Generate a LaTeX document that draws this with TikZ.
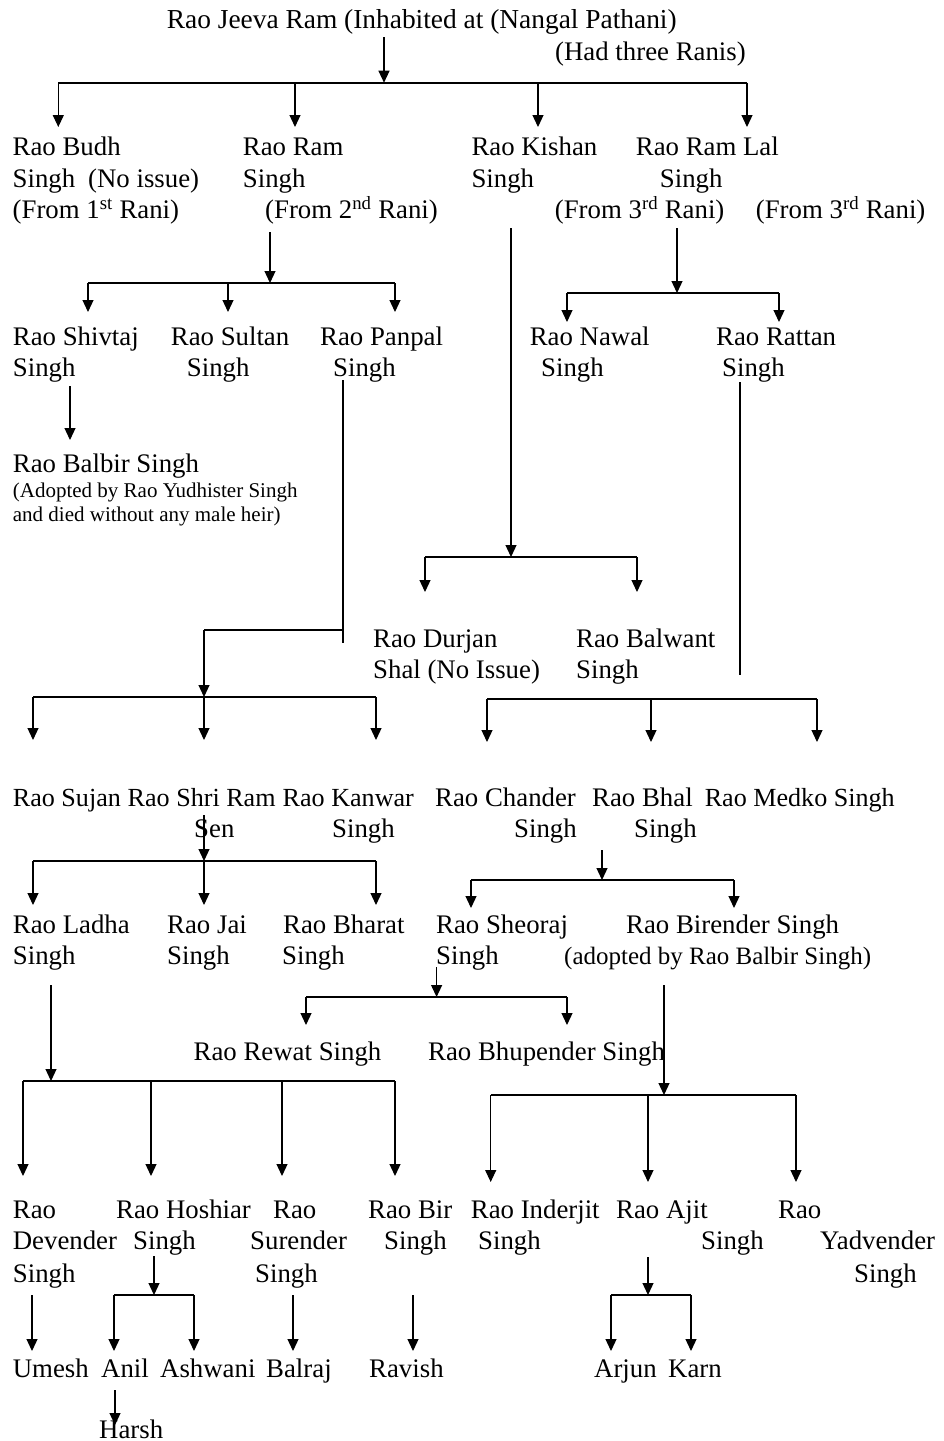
\documentclass[tikz,border=0pt]{standalone}
\usepackage{fontspec}
\setmainfont{Liberation Serif}
\usetikzlibrary{arrows.meta}
\newcommand\bigfs{\fontsize{26.8}{32}\selectfont}
\newcommand\midfs{\fontsize{26.1}{32}\selectfont}
\newcommand\narfs{\fontsize{25}{32}\selectfont}
\newcommand\topfs{\fontsize{27.4}{32}\selectfont}
\newcommand\smfs{\fontsize{21}{25}\selectfont}
\tikzset{
  txt/.style={anchor=base west, inner sep=0pt, font=\bigfs},
  smtxt/.style={anchor=base west, inner sep=0pt, font=\smfs},
  bus/.style={line width=2.1pt},
  ln/.style={line width=1.2pt},
  arr/.style={ln, -{Triangle[width=11pt,length=12pt]}},
}
\begin{document}
\begin{tikzpicture}[x=1pt,y=-1pt]
\useasboundingbox (0,0) rectangle (944,1441);
% ---------- texts ----------
\node[txt,font=\topfs] (jeeva) at (166.7,28.5) {Rao Jeeva Ram (Inhabited at (Nangal Pathani)};
\node[txt] (ranis) at (555,60) {(Had three Ranis)};
% row 1
\node[txt] (budhA) at (12.5,155) {Rao Budh};
\node[txt] (budhB) at (12.5,187) {Singh};
\node[txt] (budhC) at (88,187) {(No issue)};
\node[txt] (budhD) at (12.5,218.5) {(From 1\textsuperscript{st} Rani)};
\node[txt] (ramA) at (242.7,155) {Rao Ram};
\node[txt] (ramB) at (242.7,187) {Singh};
\node[txt] (ramC) at (265,218.5) {(From 2\textsuperscript{nd} Rani)};
\node[txt] (kishA) at (471.3,155) {Rao Kishan};
\node[txt] (kishB) at (471.3,187) {Singh};
\node[txt] (lalA) at (635.7,155) {Rao Ram Lal};
\node[txt] (lalB) at (659.7,187) {Singh};
\node[txt] (kishC) at (554.7,218.5) {(From 3\textsuperscript{rd} Rani)};
\node[txt] (lalC) at (755.7,218.5) {(From 3\textsuperscript{rd} Rani)};
% row 2
\node[txt] (shivA) at (12.7,345) {Rao Shivtaj};
\node[txt] (shivB) at (12.7,376) {Singh};
\node[txt] (sultA) at (170.7,345) {Rao Sultan};
\node[txt] (sultB) at (186.7,376) {Singh};
\node[txt] (panA) at (320,345) {Rao Panpal};
\node[txt] (panB) at (333,376) {Singh};
\node[txt] (nawA) at (529.6,345) {Rao Nawal};
\node[txt] (nawB) at (541,376) {Singh};
\node[txt] (ratA) at (716,345) {Rao Rattan};
\node[txt] (ratB) at (722,376) {Singh};
\node[txt] (balA) at (12.7,472) {Rao Balbir Singh};
\node[smtxt] (balB) at (12.7,497.7) {(Adopted by Rao Yudhister Singh};
\node[smtxt] (balC) at (12.7,521.7) {and died without any male heir)};
% Durjan row
\node[txt] (durA) at (373,647) {Rao Durjan};
\node[txt] (durB) at (373,678) {Shal (No Issue)};
\node[txt] (balwA) at (576,647) {Rao Balwant};
\node[txt] (balwB) at (576,678) {Singh};
% row 3
\node[txt,font=\midfs] (sujan) at (12.7,806.5) {Rao Sujan};
\node[txt,font=\midfs] (shriA) at (127.5,806.5) {Rao Shri Ram};
\node[txt] (shriB) at (194,837) {Sen};
\node[txt,font=\midfs] (kanA) at (282.5,806.5) {Rao Kanwar};
\node[txt] (kanB) at (332,837) {Singh};
\node[txt] (chanA) at (435,806.5) {Rao Chander};
\node[txt] (chanB) at (514,837) {Singh};
\node[txt] (bhalA) at (592,806.5) {Rao Bhal};
\node[txt] (bhalB) at (634,837) {Singh};
\node[txt,font=\midfs] (medko) at (704.6,806.5) {Rao Medko Singh};
% row 4
\node[txt] (ladA) at (12.7,933) {Rao Ladha};
\node[txt] (ladB) at (12.7,964) {Singh};
\node[txt] (jaiA) at (167,933) {Rao Jai};
\node[txt] (jaiB) at (167,964) {Singh};
\node[txt] (bhaA) at (283,933) {Rao Bharat};
\node[txt] (bhaB) at (282,964) {Singh};
\node[txt] (sheA) at (436,933) {Rao Sheoraj};
\node[txt] (sheB) at (436,964) {Singh};
\node[txt] (birA) at (626,933) {Rao Birender Singh};
\node[txt,font=\narfs] (birB) at (564,964) {(adopted by Rao Balbir Singh)};
% row 5
\node[txt] (rewat) at (193.5,1060) {Rao Rewat Singh};
\node[txt] (bhup) at (428,1060) {Rao Bhupender Singh};
% row 6
\node[txt] (devA) at (12.7,1218) {Rao};
\node[txt] (devB) at (12.7,1249) {Devender};
\node[txt] (devC) at (12.7,1282) {Singh};
\node[txt] (hosA) at (116,1218) {Rao Hoshiar};
\node[txt] (hosB) at (133,1249) {Singh};
\node[txt] (surA) at (273,1218) {Rao};
\node[txt] (surB) at (250,1249) {Surender};
\node[txt] (surC) at (255,1282) {Singh};
\node[txt] (bbirA) at (368,1218) {Rao Bir};
\node[txt] (bbirB) at (384,1249) {Singh};
\node[txt] (indA) at (470.7,1218) {Rao Inderjit};
\node[txt] (indB) at (478,1249) {Singh};
\node[txt] (ajiA) at (616,1218) {Rao Ajit};
\node[txt] (ajiB) at (701,1249) {Singh};
\node[txt] (yadA) at (778,1218) {Rao};
\node[txt] (yadB) at (820,1249) {Yadvender};
\node[txt] (yadC) at (854,1282) {Singh};
% row 7
\node[txt] (umesh) at (12.7,1377) {Umesh};
\node[txt] (anil) at (101,1377) {Anil};
\node[txt] (ashw) at (160,1377) {Ashwani};
\node[txt] (balraj) at (266,1377) {Balraj};
\node[txt] (ravish) at (369,1377) {Ravish};
\node[txt] (arjun) at (594,1377) {Arjun};
\node[txt] (karn) at (668,1377) {Karn};
\node[txt] (harsh) at (99,1438) {Harsh};
% ---------- connectors ----------
% Jeeva
\coordinate (jS) at (384,37); \coordinate (jL) at (58.3,82.7); \coordinate (jR) at (747,82.7);
\draw[arr] (jS) -- (jS |- jL);
\draw[bus] (jL) -- (jR);
\foreach \x/\n in {58.3/a,295/b,538/c,747/d}{
  \coordinate (j\n) at (\x,82.7); \coordinate (jt\n) at (\x,127);
  \draw[arr] (j\n) -- (jt\n);}
% Ram Singh
\coordinate (rS) at (270,232); \coordinate (rL) at (88,283); \coordinate (rR) at (395,283);
\draw[arr] (rS) -- (rS |- rL);
\draw[bus] (rL) -- (rR);
\foreach \x/\n in {88/a,228/b,395/c}{
  \coordinate (r\n) at (\x,283); \coordinate (rt\n) at (\x,312);
  \draw[arr] (r\n) -- (rt\n);}
% Ram Lal
\coordinate (lS) at (677,228); \coordinate (lL) at (567,293); \coordinate (lR) at (779,293);
\draw[arr] (lS) -- (lS |- lL);
\draw[bus] (lL) -- (lR);
\foreach \x/\n in {567/a,779/b}{
  \coordinate (l\n) at (\x,293); \coordinate (lt\n) at (\x,322);
  \draw[arr] (l\n) -- (lt\n);}
% Shivtaj
\coordinate (sS) at (70,386); \coordinate (sT) at (70,440);
\draw[arr] (sS) -- (sT);
% Kishan
\coordinate (kS) at (511,228); \coordinate (kL) at (425,557); \coordinate (kR) at (637,557);
\draw[arr] (kS) -- (kS |- kL);
\draw[bus] (kL) -- (kR);
\foreach \x/\n in {425/a,637/b}{
  \coordinate (k\n) at (\x,557); \coordinate (kt\n) at (\x,592);
  \draw[arr] (k\n) -- (kt\n);}
% Panpal
\coordinate (pS) at (343,380); \coordinate (pE) at (343,643); \coordinate (pJ) at (343,630);
\coordinate (pK) at (204,630); \coordinate (pL) at (33,697); \coordinate (pR) at (376,697);
\draw[ln] (pS) -- (pE);
\draw[ln] (pJ) -- (pK);
\draw[arr] (pK) -- (pK |- pL);
\draw[bus] (pL) -- (pR);
\foreach \x/\n in {33/a,204/b,376/c}{
  \coordinate (p\n) at (\x,697); \coordinate (pt\n) at (\x,740);
  \draw[arr] (p\n) -- (pt\n);}
% Rattan
\coordinate (tS) at (740,382); \coordinate (tE) at (740,675);
\draw[ln] (tS) -- (tE);
\coordinate (tL) at (487,699); \coordinate (tR) at (817,699);
\draw[bus] (tL) -- (tR);
\foreach \x/\n in {487/a,651/b,817/c}{
  \coordinate (t\n) at (\x,699); \coordinate (tt\n) at (\x,742);
  \draw[arr] (t\n) -- (tt\n);}
% Shri Ram
\coordinate (hS) at (204,815); \coordinate (hL) at (33,861); \coordinate (hR) at (376,861);
\draw[arr] (hS) -- (hS |- hL);
\draw[bus] (hL) -- (hR);
\foreach \x/\n in {33/a,204/b,376/c}{
  \coordinate (h\n) at (\x,861); \coordinate (ht\n) at (\x,905);
  \draw[arr] (h\n) -- (ht\n);}
% Bhal
\coordinate (bS) at (602,850); \coordinate (bL) at (471,880); \coordinate (bR) at (734,880);
\draw[arr] (bS) -- (bS |- bL);
\draw[bus] (bL) -- (bR);
\foreach \x/\n in {471/a,734/b}{
  \coordinate (b\n) at (\x,880); \coordinate (bt\n) at (\x,908);
  \draw[arr] (b\n) -- (bt\n);}
% Ladha
\coordinate (dS) at (51,985); \coordinate (dL) at (23,1081); \coordinate (dR) at (395,1081);
\draw[arr] (dS) -- (dS |- dL);
\draw[bus] (dL) -- (dR);
\foreach \x/\n in {23/a,151/b,282/c,395/d}{
  \coordinate (d\n) at (\x,1081); \coordinate (dt\n) at (\x,1176);
  \draw[arr] (d\n) -- (dt\n);}
% Sheoraj
\coordinate (eS) at (436.6,967); \coordinate (eL) at (306,997); \coordinate (eR) at (567,997);
\draw[arr] (eS) -- (eS |- eL);
\draw[bus] (eL) -- (eR);
\foreach \x/\n in {306/a,567/b}{
  \coordinate (e\n) at (\x,997); \coordinate (et\n) at (\x,1025);
  \draw[arr] (e\n) -- (et\n);}
% Birender
\coordinate (gS) at (664,985); \coordinate (gL) at (490.7,1095); \coordinate (gR) at (796,1095);
\draw[arr] (gS) -- (gS |- gL);
\draw[bus] (gL) -- (gR);
\foreach \x/\n in {490.7/a,648/b,796/c}{
  \coordinate (g\n) at (\x,1095); \coordinate (gt\n) at (\x,1182);
  \draw[arr] (g\n) -- (gt\n);}
% Devender, Surender, Bir
\foreach \x/\n in {32/dev,293/sur,413/bir}{
  \coordinate (\n S) at (\x,1295); \coordinate (\n T) at (\x,1351);
  \draw[arr] (\n S) -- (\n T);}
% Hoshiar
\coordinate (oS) at (154,1256); \coordinate (oL) at (114,1295); \coordinate (oR) at (194,1295);
\draw[arr] (oS) -- (oS |- oL);
\draw[bus] (oL) -- (oR);
\foreach \x/\n in {114/a,194/b}{
  \coordinate (o\n) at (\x,1295); \coordinate (ot\n) at (\x,1351);
  \draw[arr] (o\n) -- (ot\n);}
% Ajit
\coordinate (aS) at (648,1257); \coordinate (aL) at (611,1295); \coordinate (aR) at (691,1295);
\draw[arr] (aS) -- (aS |- aL);
\draw[bus] (aL) -- (aR);
\foreach \x/\n in {611/a,691/b}{
  \coordinate (a\n) at (\x,1295); \coordinate (at\n) at (\x,1351);
  \draw[arr] (a\n) -- (at\n);}
% Anil
\coordinate (nS) at (115,1390); \coordinate (nT) at (115,1425);
\draw[arr] (nS) -- (nT);
\end{tikzpicture}
\end{document}
